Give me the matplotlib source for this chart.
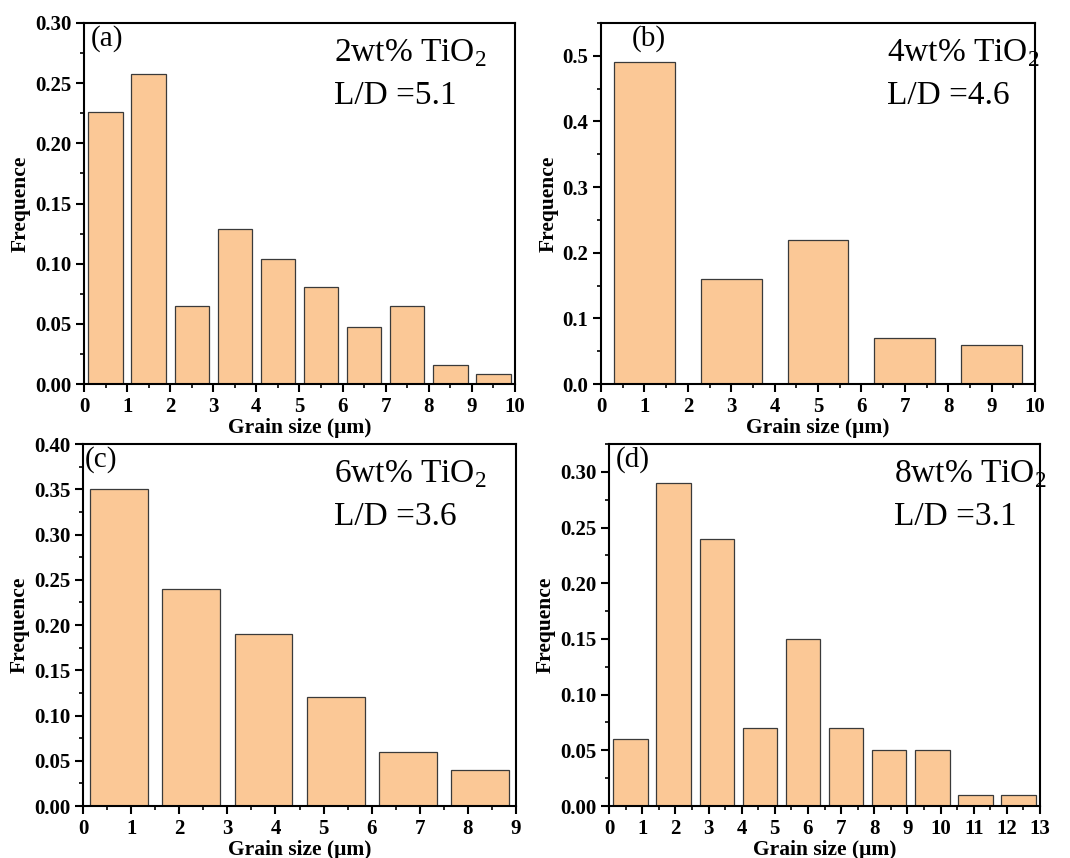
import numpy as np
import matplotlib
matplotlib.use('Agg')
import matplotlib.pyplot as plt
from matplotlib.ticker import MultipleLocator, AutoMinorLocator

plt.rcParams['font.family'] = ['Liberation Serif', 'DejaVu Serif']
plt.rcParams['mathtext.fontset'] = 'custom'
plt.rcParams['mathtext.rm'] = 'Liberation Serif'

# (a) 2wt% TiO2
a_centers = [0.5, 1.5, 2.5, 3.5, 4.5, 5.5, 6.5, 7.5, 8.5, 9.5]
a_freq = [0.226, 0.258, 0.065, 0.129, 0.104, 0.081, 0.047, 0.065, 0.016, 0.008]
# (b) 4wt% TiO2
b_centers = [1, 3, 5, 7, 9]
b_freq = [0.49, 0.16, 0.22, 0.07, 0.06]
# (c) 6wt% TiO2
c_centers = [0.75, 2.25, 3.75, 5.25, 6.75, 8.25]
c_freq = [0.35, 0.24, 0.19, 0.12, 0.06, 0.04]
# (d) 8wt% TiO2
d_centers = [0.65, 1.95, 3.25, 4.55, 5.85, 7.15, 8.45, 9.75, 11.05, 12.35]
d_freq = [0.06, 0.29, 0.24, 0.07, 0.15, 0.07, 0.05, 0.05, 0.01, 0.01]

labels = ['(a)', '(b)', '(c)', '(d)']
wt_text = ['2wt% TiO$_2$', '4wt% TiO$_2$', '6wt% TiO$_2$', '8wt% TiO$_2$']
ld_text = ['L/D =5.1', 'L/D =4.6', 'L/D =3.6', 'L/D =3.1']

bar_color = '#FBC896'
edge_color = '#3a3a3a'

fig = plt.figure(figsize=(10.7, 8.58), dpi=100)
positions = [
    [0.0785, 0.5524, 0.4028, 0.4208],
    [0.5617, 0.5524, 0.4056, 0.4208],
    [0.0776, 0.0606, 0.4047, 0.4219],
    [0.5692, 0.0606, 0.4028, 0.4219],
]
panels = [
    (a_centers, a_freq, 0.8, 10, 0.30, 0.05, 1),
    (b_centers, b_freq, 1.4, 10, 0.55, 0.1, 1),
    (c_centers, c_freq, 1.2, 9, 0.40, 0.05, 1),
    (d_centers, d_freq, 1.04, 13, 0.325, 0.05, 1),
]
label_x = [0.015, 0.07, 0.003, 0.016]
text_x = [0.58, 0.66, 0.58, 0.66]

for i, (pos, (xc, yv, w, xmax, ymax, ystep, xstep)) in enumerate(zip(positions, panels)):
    ax = fig.add_axes(pos)
    ax.bar(xc, yv, width=w, color=bar_color, edgecolor=edge_color, linewidth=0.9)
    ax.set_xlim(0, xmax)
    ax.set_ylim(0, ymax)
    ax.xaxis.set_major_locator(MultipleLocator(xstep))
    ax.xaxis.set_minor_locator(MultipleLocator(xstep / 2))
    ax.yaxis.set_major_locator(MultipleLocator(ystep))
    ax.yaxis.set_minor_locator(AutoMinorLocator(2))
    if ystep == 0.1:
        ax.yaxis.set_major_formatter(plt.FormatStrFormatter('%.1f'))
    else:
        ax.yaxis.set_major_formatter(plt.FormatStrFormatter('%.2f'))
    ax.tick_params(which='major', direction='out', length=6, width=1.5, labelsize=15, pad=3)
    ax.tick_params(which='minor', direction='out', length=3, width=1.2)
    for lab in ax.get_xticklabels() + ax.get_yticklabels():
        lab.set_fontweight('bold')
    for sp in ax.spines.values():
        sp.set_linewidth(1.5)
    ax.set_xlabel('Grain size (μm)', fontsize=15.5, fontweight='bold', labelpad=1)
    ax.set_ylabel('Frequence', fontsize=15.5, fontweight='bold', labelpad=3)
    ax.text(label_x[i], 0.995, labels[i], transform=ax.transAxes, fontsize=21, va='top', ha='left')
    ax.text(text_x[i], 0.96, wt_text[i], transform=ax.transAxes, fontsize=24, va='top', ha='left')
    ax.text(text_x[i], 0.84, ld_text[i], transform=ax.transAxes, fontsize=24, va='top', ha='left')

fig.savefig('out.png', dpi=100)
